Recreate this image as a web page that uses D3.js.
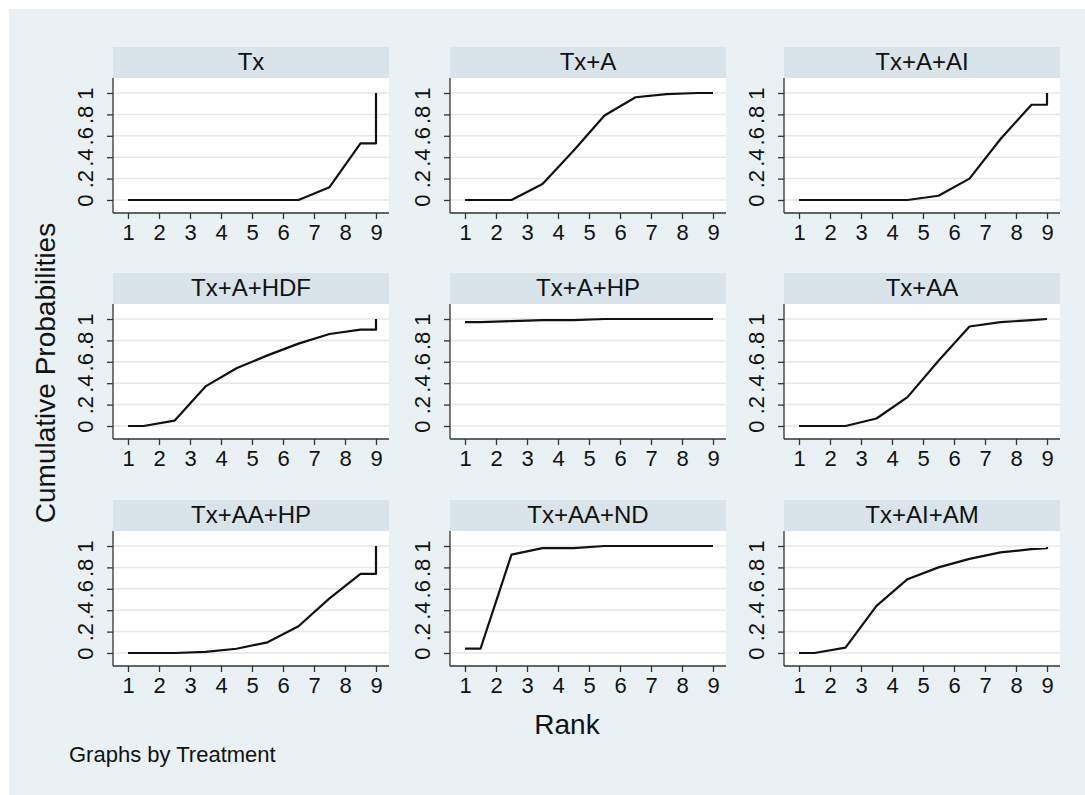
<!DOCTYPE html>
<html>
<head>
<meta charset="utf-8">
<script src="https://cdn.jsdelivr.net/npm/d3@7"></script>
<style>
  body { margin: 0; background: #ffffff; overflow: hidden; }
  svg { display: block; }
  text { font-family: "Liberation Sans", Arial, Helvetica, sans-serif; fill: #111; }
</style>
</head>
<body>
<div id="chart"></div>
<script>
// Cumulative rank probabilities, one small panel per treatment

//Rank positions of the points on each curve:
var ranks = [1, 1.5, 2.5, 3.5, 4.5, 5.5, 6.5, 7.5, 8.5, 9, 9];

//Panel titles:
var treatments = ["Tx", "Tx+A", "Tx+A+AI", "Tx+A+HDF", "Tx+A+HP", "Tx+AA", "Tx+AA+HP", "Tx+AA+ND", "Tx+AI+AM"];

//Cumulative probabilities:
var tx       = [0, 0, 0, 0, 0, 0, 0, 0.12, 0.53, 0.53, 1];
var txA      = [0, 0, 0, 0.15, 0.46, 0.79, 0.96, 0.99, 1, 1, 1];
var txAAI    = [0, 0, 0, 0, 0, 0.04, 0.2, 0.57, 0.89, 0.89, 1];
var txAHDF   = [0, 0, 0.05, 0.37, 0.54, 0.66, 0.77, 0.86, 0.9, 0.9, 1];
var txAHP    = [0.97, 0.97, 0.98, 0.99, 0.99, 1, 1, 1, 1, 1, 1];
var txAA     = [0, 0, 0, 0.07, 0.27, 0.61, 0.93, 0.97, 0.99, 1, 1];
var txAAHP   = [0, 0, 0, 0.01, 0.04, 0.1, 0.25, 0.51, 0.74, 0.74, 1];
var txAAND   = [0.04, 0.04, 0.92, 0.98, 0.98, 1, 1, 1, 1, 1, 1];
var txAIAM   = [0, 0, 0.05, 0.44, 0.69, 0.8, 0.88, 0.94, 0.97, 0.98, 0.99];

var seriesList = [tx, txA, txAAI, txAHDF, txAHP, txAA, txAAHP, txAAND, txAIAM];

//Tick values:
var xTicks = [1, 2, 3, 4, 5, 6, 7, 8, 9];
var yTicks = [0, 0.2, 0.4, 0.6, 0.8, 1];

//Set up dimensions for the SVG:
var svgWidth = 1085;
var svgHeight = 795;

var svg = d3.select("#chart")
    .append("svg")
    .attr("width", svgWidth)
    .attr("height", svgHeight);

//Stata-style light background:
svg.append("rect")
    .attr("x", 9)
    .attr("y", 9)
    .attr("width", svgWidth - 9)
    .attr("height", svgHeight - 9)
    .attr("fill", "#e9f1f4");

//Panel layout:
var colLeft = [113, 450, 784];
var rowTop = [47, 273, 500];
var panelWidth = 276;
var headerHeight = 31;
var plotHeight = 135;

//Scales shared by all panels:
var x = d3.scaleLinear()
    .domain([1, 9])
    .range([15, 263]);
var y = d3.scaleLinear()
    .domain([0, 1])
    .range([122, 15]);

var line = d3.line()
    .x((d, i) => x(ranks[i]))
    .y(d => y(d));

var yFormat = d => d === 0 ? "0" : d === 1 ? "1" : d3.format(".1f")(d).replace(/^0/, "");

treatments.forEach(function(name, i) {
    var col = i % 3;
    var row = Math.floor(i / 3);

    var panel = svg.append("g")
        .attr("transform", `translate(${colLeft[col]}, ${rowTop[row]})`);

    //Title strip:
    panel.append("rect")
        .attr("width", panelWidth)
        .attr("height", headerHeight)
        .attr("fill", "#d8e4ea");

    panel.append("text")
        .attr("x", panelWidth / 2)
        .attr("y", 23)
        .attr("text-anchor", "middle")
        .style("font-size", "24px")
        .text(name);

    //Plot area:
    var plot = panel.append("g")
        .attr("transform", `translate(0, ${headerHeight})`);

    plot.append("rect")
        .attr("width", panelWidth)
        .attr("height", plotHeight)
        .attr("fill", "#ffffff");

    //Grid lines:
    plot.selectAll(".grid")
        .data(yTicks)
        .enter()
        .append("line")
        .attr("class", "grid")
        .attr("x1", 0)
        .attr("x2", panelWidth)
        .attr("y1", d => y(d))
        .attr("y2", d => y(d))
        .attr("stroke", "#e4e8ea")
        .attr("stroke-width", 1.5);

    //Axes:
    var bottomAxis = d3.axisBottom(x)
        .tickValues(xTicks)
        .tickSize(6)
        .tickPadding(4)
        .tickFormat(d3.format("d"));
    var leftAxis = d3.axisLeft(y)
        .tickValues(yTicks)
        .tickSize(6)
        .tickFormat(yFormat);

    var xAxis = plot.append("g")
        .attr("transform", `translate(0, ${plotHeight})`)
        .call(bottomAxis);
    xAxis.select(".domain")
        .attr("d", `M0,0H${panelWidth}`);
    xAxis.selectAll("text")
        .attr("y", 11)
        .style("font-size", "22px")
        .attr("fill", "#111");

    var yAxis = plot.append("g")
        .call(leftAxis);
    yAxis.select(".domain")
        .attr("d", `M0,0V${plotHeight}`);
    yAxis.selectAll(".tick text")
        .attr("x", null)
        .attr("dy", null)
        .attr("text-anchor", "middle")
        .attr("transform", "translate(-20, 0) rotate(-90)")
        .style("font-size", "22px")
        .attr("fill", "#111");

    plot.selectAll(".domain, .tick line")
        .attr("stroke", "#333")
        .attr("stroke-width", 1.3);

    //Curve:
    plot.append("path")
        .datum(seriesList[i])
        .attr("d", line)
        .attr("fill", "none")
        .attr("stroke", "#111")
        .attr("stroke-width", 2.2)
        .attr("stroke-linejoin", "round");
});

//Shared titles:
svg.append("text")
    .attr("transform", "translate(55, 373) rotate(-90)")
    .attr("text-anchor", "middle")
    .style("font-size", "28px")
    .attr("fill", "#222")
    .text("Cumulative Probabilities");

svg.append("text")
    .attr("x", 567)
    .attr("y", 734)
    .attr("text-anchor", "middle")
    .style("font-size", "28px")
    .attr("fill", "#222")
    .text("Rank");

svg.append("text")
    .attr("x", 69)
    .attr("y", 762)
    .style("font-size", "22px")
    .attr("fill", "#222")
    .text("Graphs by Treatment");
</script>
</body>
</html>
